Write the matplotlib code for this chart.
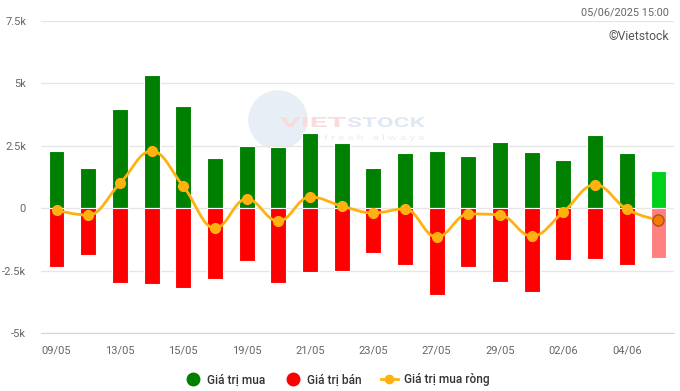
import numpy as np
import matplotlib
matplotlib.use("Agg")
import matplotlib.pyplot as plt
from matplotlib.path import Path
from matplotlib.patches import PathPatch, Ellipse
from matplotlib.lines import Line2D
from matplotlib.ticker import FixedLocator
from matplotlib.textpath import TextPath
from matplotlib.font_manager import FontProperties
from matplotlib.transforms import Affine2D, IdentityTransform

plt.rcParams['font.family'] = ['Roboto', 'DejaVu Sans']

# Data (billion VND)
dates = ['09/05', '12/05', '13/05', '14/05', '15/05', '16/05', '19/05', '20/05',
         '21/05', '22/05', '23/05', '26/05', '27/05', '28/05', '29/05', '30/05',
         '02/06', '03/06', '04/06', '05/06']
buy = [2.29, 1.61, 3.98, 5.34, 4.10, 2.01, 2.49, 2.45, 3.01, 2.61,
       1.61, 2.21, 2.29, 2.09, 2.65, 2.25, 1.93, 2.93, 2.21, 1.49]
sell = [-2.37, -1.89, -3.01, -3.05, -3.21, -2.85, -2.13, -3.01, -2.57, -2.53,
        -1.81, -2.29, -3.49, -2.37, -2.97, -3.37, -2.09, -2.05, -2.29, -2.01]
net = [-0.08, -0.28, 0.99, 2.29, 0.88, -0.80, 0.37, -0.52, 0.45, 0.09,
       -0.19, -0.03, -1.16, -0.23, -0.27, -1.12, -0.15, 0.94, -0.04, -0.48]

buy = [v * 1000 for v in buy]
sell = [v * 1000 for v in sell]
net = [v * 1000 for v in net]

GREEN, RED = '#008000', '#ff0000'
GREEN_LAST, RED_LAST = '#00d01c', '#ff8080'
LINE = '#ffb20f'
W, H = 680, 391


def spline_path(xs, ys, smoothing=1.5):
    # highcharts-like spline control points
    n = len(xs)
    denom = smoothing + 1
    lc, rc = [None] * n, [None] * n
    for i in range(1, n - 1):
        px, py = xs[i], ys[i]
        lx, ly = xs[i - 1], ys[i - 1]
        nx, ny = xs[i + 1], ys[i + 1]
        lcx = (smoothing * px + lx) / denom
        lcy = (smoothing * py + ly) / denom
        rcx = (smoothing * px + nx) / denom
        rcy = (smoothing * py + ny) / denom
        corr = (rcy - lcy) * (rcx - px) / (rcx - lcx) + py - rcy
        lcy += corr
        rcy += corr
        if lcy > ly and lcy > py:
            lcy = max(ly, py); rcy = 2 * py - lcy
        elif lcy < ly and lcy < py:
            lcy = min(ly, py); rcy = 2 * py - lcy
        if rcy > ny and rcy > py:
            rcy = max(ny, py); lcy = 2 * py - rcy
        elif rcy < ny and rcy < py:
            rcy = min(ny, py); lcy = 2 * py - rcy
        lc[i] = (lcx, lcy)
        rc[i] = (rcx, rcy)
    verts = [(xs[0], ys[0])]
    codes = [Path.MOVETO]
    for i in range(1, n):
        c1 = rc[i - 1] if rc[i - 1] else (xs[i - 1], ys[i - 1])
        c2 = lc[i] if lc[i] else (xs[i], ys[i])
        verts += [c1, c2, (xs[i], ys[i])]
        codes += [Path.CURVE4] * 3
    return Path(verts, codes)


def stretched_text(fig, s, x0, x1, y_base, cap_h, color, weight='bold'):
    # text squeezed into a pixel box (x0..x1, baseline at y_base from top)
    tp = TextPath((0, 0), s, size=10, prop=FontProperties(family='Roboto', weight=weight))
    bb = tp.get_extents()
    sx = (x1 - x0) / bb.width
    sy = cap_h / bb.height
    tr = Affine2D().translate(-bb.x0, 0).scale(sx, sy).translate(x0, H - y_base)
    fig.add_artist(PathPatch(tr.transform_path(tp), facecolor=color, edgecolor='none',
                             transform=IdentityTransform(), zorder=-1))


fig = plt.figure(figsize=(6.8, 3.91), dpi=100)
ax = fig.add_axes([40.7 / W, (H - 333) / H, (674.3 - 40.7) / W, 312 / H])
ax.patch.set_alpha(0)

# watermark behind the plot
fig.add_artist(Ellipse((278 / W, 1 - 120 / H), 58 / W, 58 / H,
                       color='#e7eef6', zorder=-2))
stretched_text(fig, 'VIET', 280, 346, 127, 10, '#f8dcdc')
stretched_text(fig, 'STOCK', 348, 425, 127, 10, '#e0e8f2')
stretched_text(fig, 'r e f r e s h   a l w a y s', 308, 424, 140, 7, '#e8edf4',
               weight='normal')

x = np.arange(len(dates))
bar_colors_b = [GREEN] * (len(dates) - 1) + [GREEN_LAST]
bar_colors_s = [RED] * (len(dates) - 1) + [RED_LAST]
ax.bar(x, buy, width=0.5, color=bar_colors_b, edgecolor='white', linewidth=0.8, zorder=3)
ax.bar(x, sell, width=0.5, color=bar_colors_s, edgecolor='white', linewidth=0.8, zorder=3)

ax.add_patch(PathPatch(spline_path(list(x), net), facecolor='none', edgecolor=LINE,
                       linewidth=2, zorder=4))
ax.plot(x[:-1], net[:-1], 'o', color=LINE, markersize=7, zorder=5)
ax.plot(x[-1:], net[-1:], 'o', markerfacecolor='#f57c00', markeredgecolor='#a0522d',
        markeredgewidth=1, markersize=8, zorder=5)

ax.set_xlim(-0.5, len(dates) - 0.5)
ax.set_ylim(-5000, 7500)
ax.yaxis.set_major_locator(FixedLocator([-5000, -2500, 0, 2500, 5000, 7500]))
ax.set_yticklabels(['-5k', '-2.5k', '0', '2.5k', '5k', '7.5k'])
ax.set_xticks(x[::2])
ax.set_xticklabels(dates[::2])
ax.grid(axis='y', color='#e6e6e6', linewidth=1, zorder=0)
for s in ['top', 'right', 'left']:
    ax.spines[s].set_visible(False)
ax.spines['bottom'].set_color('#ccd6eb')
ax.tick_params(axis='both', length=0, colors='#666666', labelsize=8)
ax.tick_params(axis='y', pad=10.5)
ax.tick_params(axis='x', pad=9)

fig.text(669 / W, 1 - 13 / H, '05/06/2025 15:00', color='#666666', fontsize=7.8,
         ha='right', va='center')
fig.text(669 / W, 1 - 37 / H, '©Vietstock', color='#555555', fontsize=8.8,
         ha='right', va='center')

handles = [
    Line2D([], [], linestyle='none', marker='o', markersize=9, markerfacecolor=GREEN,
           markeredgecolor=GREEN),
    Line2D([], [], linestyle='none', marker='o', markersize=9, markerfacecolor=RED,
           markeredgecolor=RED),
    Line2D([], [], color=LINE, linewidth=2, marker='o', markersize=6),
]
fig.legend(handles, ['Giá trị mua', 'Giá trị bán', 'Giá trị mua ròng'], ncol=3,
           loc='center', bbox_to_anchor=(337 / W, 1 - 380 / H), frameon=False,
           labelcolor='#333333', handlelength=1.4, handletextpad=0.5,
           columnspacing=1.6, prop={'weight': 'medium', 'size': 8.6})

fig.savefig('out.png', dpi=100)
